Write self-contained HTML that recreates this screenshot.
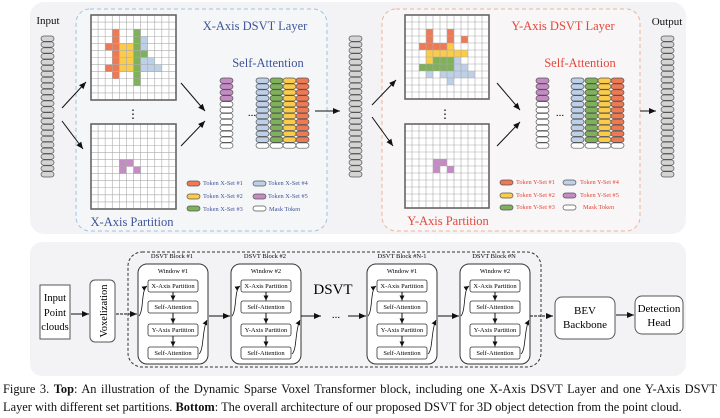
<!DOCTYPE html>
<html><head><meta charset="utf-8">
<style>
html,body{margin:0;padding:0;background:#fff;}
body{width:720px;height:418px;position:relative;overflow:hidden;font-family:"Liberation Serif",serif;}
svg{position:absolute;left:0;top:0;}
svg text{font-family:"Liberation Serif",serif;}
.cap{position:absolute;left:3px;width:714px;font-size:12.4px;line-height:18px;color:#111;white-space:nowrap;}
.j{text-align:justify;text-align-last:justify;white-space:normal;}
</style></head><body>
<svg id="s" width="720" height="418" viewBox="0 0 720 418">
<defs>
<marker id="ah" markerWidth="8" markerHeight="8" refX="7" refY="4" orient="auto" markerUnits="userSpaceOnUse"><path d="M0,1 L7,4 L0,7 Z" fill="#111"/></marker>
<marker id="as" markerWidth="6" markerHeight="6" refX="5" refY="3" orient="auto" markerUnits="userSpaceOnUse"><path d="M0,0.5 L5,3 L0,5.5 Z" fill="#111"/></marker>
</defs>
<rect x="30" y="2" width="656" height="232" rx="14" fill="#f3f3f5"/>
<rect x="76" y="9" width="251" height="222" rx="14" fill="#f5f6f8" stroke="#9cc3e6" stroke-dasharray="4,3"/>
<rect x="382" y="9" width="258" height="222" rx="14" fill="#f8f6f6" stroke="#f2b39a" stroke-dasharray="4,3"/>
<g id="dyn"></g>
<text x="48" y="24" font-size="11" text-anchor="middle" fill="#111">Input</text>
<text x="667" y="25" font-size="11" text-anchor="middle" fill="#111">Output</text>
<text x="255" y="30" font-size="12.5" text-anchor="middle" fill="#3f559a">X-Axis DSVT Layer</text>
<text x="268" y="67" font-size="12.5" text-anchor="middle" fill="#3f559a">Self-Attention</text>
<text x="132" y="226" font-size="12.5" text-anchor="middle" fill="#3f559a">X-Axis Partition</text>
<text x="563" y="30" font-size="12.5" text-anchor="middle" fill="#e5463a">Y-Axis DSVT Layer</text>
<text x="580" y="67" font-size="12.5" text-anchor="middle" fill="#e5463a">Self-Attention</text>
<text x="448" y="225" font-size="12.5" text-anchor="middle" fill="#e5463a">Y-Axis Partition</text>
<g font-size="6.3" fill="#3f559a">
<text x="203" y="185">Token X-Set #1</text><text x="268" y="185">Token X-Set #4</text>
<text x="203" y="198">Token X-Set #2</text><text x="268" y="198">Token X-Set #5</text>
<text x="203" y="211">Token X-Set #3</text><text x="269" y="211">Mask Token</text>
</g>
<g font-size="6.3" fill="#e5463a">
<text x="516" y="184">Token Y-Set #1</text><text x="580" y="184">Token Y-Set #4</text>
<text x="516" y="197">Token Y-Set #2</text><text x="580" y="197">Token Y-Set #5</text>
<text x="516" y="209">Token Y-Set #3</text><text x="583" y="209">Mask Token</text>
</g>
<text x="252" y="116" font-size="11" text-anchor="middle">...</text>
<text x="560" y="116" font-size="11" text-anchor="middle">...</text>
<text x="133" y="118" font-size="12" text-anchor="middle">⋮</text>
<text x="445" y="118" font-size="12" text-anchor="middle">⋮</text>

<rect x="30" y="242" width="656" height="134" rx="12" fill="#f3f3f5"/>
<rect x="40" y="285" width="30" height="54" fill="#fff" stroke="#555"/>
<text x="55" y="301" font-size="10.5" text-anchor="middle">Input</text>
<text x="55" y="316" font-size="10.5" text-anchor="middle">Point</text>
<text x="55" y="330" font-size="10.5" text-anchor="middle">clouds</text>
<rect x="90" y="280" width="25" height="62" rx="5" fill="#fff" stroke="#555"/>
<text transform="translate(107,311) rotate(-90)" font-size="10.5" text-anchor="middle">Voxelization</text>
<line x1="71" y1="314" x2="89" y2="314" stroke="#111" marker-end="url(#ah)"/>
<line x1="116" y1="314" x2="137" y2="314" stroke="#111" stroke-dasharray="3,1" marker-end="url(#ah)"/>
<rect x="128" y="252" width="413" height="115" rx="14" fill="none" stroke="#333" stroke-dasharray="3,2"/>
<g id="blocks"></g>
<text x="172" y="258" font-size="6.5" text-anchor="middle">DSVT Block #1</text>
<text x="265" y="258" font-size="6.5" text-anchor="middle">DSVT Block #2</text>
<text x="402" y="258" font-size="6.5" text-anchor="middle">DSVT Block #N-1</text>
<text x="494" y="258" font-size="6.5" text-anchor="middle">DSVT Block #N</text>
<text x="333" y="294" font-size="15" text-anchor="middle">DSVT</text>
<text x="336" y="318" font-size="11" text-anchor="middle">...</text>
<line x1="209" y1="316" x2="230" y2="316" stroke="#111" marker-end="url(#ah)"/>
<line x1="301" y1="316" x2="321" y2="316" stroke="#111" marker-end="url(#ah)"/>
<line x1="348" y1="316" x2="366" y2="316" stroke="#111" marker-end="url(#ah)"/>
<line x1="438" y1="316" x2="459" y2="316" stroke="#111" marker-end="url(#ah)"/>
<line x1="530" y1="316" x2="553" y2="316" stroke="#111" stroke-dasharray="3,1" marker-end="url(#ah)"/>
<rect x="555" y="297" width="60" height="42" rx="7" fill="#fff" stroke="#555"/>
<text x="585" y="314" font-size="11" text-anchor="middle">BEV</text>
<text x="585" y="328" font-size="11" text-anchor="middle">Backbone</text>
<line x1="616" y1="315" x2="634" y2="315" stroke="#111" marker-end="url(#ah)"/>
<rect x="635" y="296" width="48" height="38" rx="7" fill="#fff" stroke="#555"/>
<text x="659" y="312" font-size="11" text-anchor="middle">Detection</text>
<text x="659" y="326" font-size="11" text-anchor="middle">Head</text>
<g font-size="6.5" text-anchor="middle">
<text x="173" y="273">Window #1</text><text x="266" y="273">Window #2</text><text x="402" y="273">Window #1</text><text x="495" y="273">Window #2</text>
<text x="173" y="288">X-Axis Partition</text><text x="173" y="309">Self-Attention</text><text x="173" y="332">Y-Axis Partition</text><text x="173" y="355">Self-Attention</text>
<text x="266" y="288">X-Axis Partition</text><text x="266" y="309">Self-Attention</text><text x="266" y="332">Y-Axis Partition</text><text x="266" y="355">Self-Attention</text>
<text x="402" y="288">X-Axis Partition</text><text x="402" y="309">Self-Attention</text><text x="402" y="332">Y-Axis Partition</text><text x="402" y="355">Self-Attention</text>
<text x="495" y="288">X-Axis Partition</text><text x="495" y="309">Self-Attention</text><text x="495" y="332">Y-Axis Partition</text><text x="495" y="355">Self-Attention</text>
</g>
</svg>
<div class="cap j" style="top:380px;">Figure 3. <b>Top</b>: An illustration of the Dynamic Sparse Voxel Transformer block, including one X-Axis DSVT Layer and one Y-Axis DSVT</div>
<div class="cap" style="top:398px;">Layer with different set partitions. <b>Bottom</b>: The overall architecture of our proposed DSVT for 3D object detection from the point cloud.</div>
<script>
(function(){
var NS="http://www.w3.org/2000/svg",g=document.getElementById("dyn"),b=document.getElementById("blocks");
function el(p,t,a){var e=document.createElementNS(NS,t);for(var k in a)e.setAttribute(k,a[k]);p.appendChild(e);return e;}
var C={o:"#ee7a55",y:"#fbcb4a",g:"#7fb05a",b:"#bdd0e8",p:"#c48bc4",w:"#fff",s:"#d4d4d4"};
function tok(x,y,w,h,c){el(g,"rect",{x:x,y:y,width:w,height:h-0.6,rx:h/2.2,fill:C[c],stroke:"#555","stroke-width":0.7});}
function col(x,y0,n,h,cs){for(var i=0;i<n;i++)tok(x,y0+i*h,13,h,cs(i));}
col(41,36,24,5.9,function(){return "s"});col(349,36,24,5.9,function(){return "s"});col(661,36,24,5.9,function(){return "s"});
function stacks(x1,xs){col(x1,78,12,5.9,function(i){return i<4?"p":"w"});
var cc=["b","g","y","o"];for(var k=0;k<4;k++)(function(c){col(xs[k],78,12,5.9,function(i){return i<11?c:"w"})})(cc[k]);}
stacks(220,[256,270,283,296]);stacks(536,[571,585,598,611]);
function grid(x,y,sz,cells){var n=12,c=sz/n;el(g,"rect",{x:x,y:y,width:sz,height:sz,fill:"#fff"});
for(var k in cells)cells[k].forEach(function(rc){el(g,"rect",{x:x+rc[1]*c,y:y+rc[0]*c,width:c,height:c,fill:C[k]});});
for(var i=1;i<n;i++){el(g,"line",{x1:x+i*c,y1:y,x2:x+i*c,y2:y+sz,stroke:"#aaa","stroke-width":0.6});el(g,"line",{x1:x,y1:y+i*c,x2:x+sz,y2:y+i*c,stroke:"#aaa","stroke-width":0.6});}
el(g,"rect",{x:x,y:y,width:sz,height:sz,fill:"none",stroke:"#666","stroke-width":1.6});}
function R(r0,r1,c){var a=[];for(var r=r0;r<=r1;r++)a.push([r,c]);return a;}
grid(91,15,85,{o:R(2,8,3).concat([[4,2],[7,2]]),y:R(4,7,4).concat(R(4,7,5)),g:R(2,9,6).concat([[5,7]]),b:[[3,7],[4,7],[6,7],[7,7],[7,8],[7,9],[6,8]]});
grid(91,124,85,{p:[[5,4],[5,5],[6,4],[6,6]]});
grid(405,15,84,{o:[[2,3],[2,6],[3,3],[3,6],[3,8],[4,2],[4,3],[4,4],[4,5]],y:[[4,6],[5,3],[5,4],[5,5],[5,6],[5,7],[5,8],[6,3]],g:[[6,4],[6,5],[6,6],[7,2],[7,3],[7,4],[7,5],[7,6]],b:[[6,7],[7,7],[7,8],[8,3],[8,5],[8,6],[8,7],[8,8],[8,9],[9,6]]});
grid(405,124,84,{p:[[5,4],[5,5],[6,4],[6,6]]});
function ar(x1,y1,x2,y2){el(g,"line",{x1:x1,y1:y1,x2:x2,y2:y2,stroke:"#111","stroke-width":1,"marker-end":"url(#ah)"});}
ar(62,108,86,82);ar(62,121,83,149);ar(181,83,205,111);ar(181,146,205,121);ar(315,111,340,111);
ar(372,105,396,80);ar(372,117,393,146);ar(497,83,520,110);ar(497,146,520,122);ar(640,111,656,111);
function sw(x,y,c){el(g,"rect",{x:x,y:y,width:13,height:5,rx:2.5,fill:C[c],stroke:"#555","stroke-width":0.7});}
sw(187,181,"o");sw(187,194,"y");sw(187,206,"g");sw(253,181,"b");sw(253,194,"p");sw(253,206,"w");
sw(500,180,"o");sw(500,193,"y");sw(500,205,"g");sw(563,180,"b");sw(563,193,"p");sw(563,205,"w");
[138,231,367,460].forEach(function(x){
el(b,"rect",{x:x,y:264,width:70,height:100,rx:9,fill:"#fff",stroke:"#333"});
var ys=[280,301,324,347];ys.forEach(function(y){el(b,"rect",{x:x+10,y:y,width:50,height:12,rx:2,fill:"#fff",stroke:"#333","stroke-width":0.8});});
for(var i=0;i<3;i++)el(b,"line",{x1:x+35,y1:ys[i]+12,x2:x+35,y2:ys[i+1]-0.5,stroke:"#111","marker-end":"url(#as)"});
el(b,"path",{d:"M"+(x+1)+",316 C"+(x+6)+",310 "+(x+3)+",290 "+(x+9)+",286",fill:"none",stroke:"#111","stroke-width":0.8,"marker-end":"url(#as)"});
el(b,"path",{d:"M"+(x+61)+",354 C"+(x+66)+",350 "+(x+64)+",330 "+(x+69)+",320",fill:"none",stroke:"#111","stroke-width":0.8,"marker-end":"url(#as)"});
});
})();
</script>
</body></html>
